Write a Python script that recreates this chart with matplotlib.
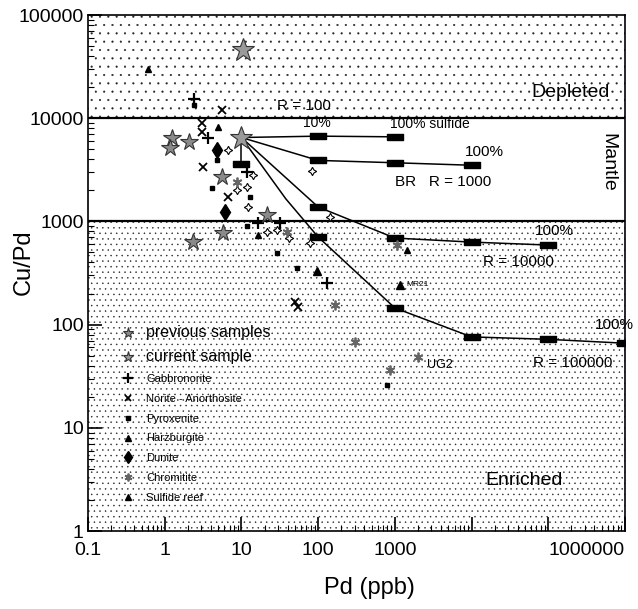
import matplotlib
matplotlib.use("Agg")
import matplotlib.pyplot as plt
from matplotlib.ticker import FixedLocator, FixedFormatter, LogLocator, NullFormatter

plt.rcParams['font.family'] = ['Liberation Sans', 'DejaVu Sans']
plt.rcParams['hatch.linewidth'] = 0.3

# ---------------- data ----------------
x_tick_vals = [0.1, 1, 10, 100, 1000, 1e4, 1e5, 1e6]
x_tick_labels = ['0.1', '1', '10', '100', '1000', '', '', '1000000']
y_tick_vals = [1, 10, 100, 1000, 10000, 100000]
y_tick_labels = ['1', '10', '100', '1000', '10000', '100000']

depleted_range = [10000, 100000]
enriched_range = [1, 1000]

# mixing lines (Pd ppb, Cu/Pd)
r100_pd = [10, 100, 1000]
r100_cupd = [6500, 6700, 6600]
r1000_pd = [10, 100, 1000, 10000]
r1000_cupd = [6500, 3900, 3700, 3500]
r10000_pd = [10, 100, 1000, 10000, 100000]
r10000_cupd = [6500, 1380, 690, 630, 590]
r100000_pd = [10, 38, 100, 1000, 10000, 100000, 1000000]
r100000_cupd = [6500, 1650, 706, 145, 76, 72, 66]
r100000_box_pd = [100, 1000, 10000, 100000, 1000000]
r100000_box_cupd = [706, 145, 76, 72, 66]
short_pd = [10, 10]
short_cupd = [6500, 3600]

# samples
current_pd = [10, 10.5]
current_cupd = [6500, 46000]
previous_pd = [1.24, 1.18, 2.1, 5.6, 5.8, 2.34, 21.6]
previous_cupd = [6400, 5130, 5900, 2700, 780, 630, 1150]
gabbro_pd = [2.4, 3.7, 11.8, 16.4, 32, 130]
gabbro_cupd = [15500, 6400, 3000, 970, 970, 253]
norite_pd = [5.6, 3.06, 3.06, 3.2, 6.7, 50, 54]
norite_cupd = [12000, 8950, 7350, 3370, 1720, 166, 148]
pyrox_pd = [2.4, 4.1, 12.8, 11.8, 4.8, 29, 53, 800]
pyrox_cupd = [13500, 2100, 1720, 900, 3950, 490, 353, 26]
harz_pd = [0.6, 4.95, 16.4, 1450]
harz_cupd = [30000, 8200, 740, 527]
dunite_pd = [4.8, 6.1]
dunite_cupd = [4900, 1230]
chrom_pd = [8.8, 39, 166, 300, 1070, 2000, 865]
chrom_cupd = [2420, 790, 155, 68, 590, 48, 36]
sulf_pd = [97, 1170]
sulf_cupd = [330, 242]
other_pd = [6.7, 8.8, 11.8, 12.2, 14.2, 83, 143, 78, 21.6, 29, 42]
other_cupd = [4900, 2000, 2150, 1380, 2800, 3100, 1100, 620, 790, 830, 690]

legend_labels = ['previous samples', 'current sample', 'Gabbronorite',
                 'Norite - Anorthosite', 'Pyroxenite', 'Harzburgite',
                 'Dunite', 'Chromitite', 'Sulfide reef']

# ---------------- figure ----------------
fig = plt.figure(figsize=(6.38, 6.09), dpi=100)
ax = fig.add_axes([88/638, 78/609, 537/638, 516/609])
ax.set_xscale('log')
ax.set_yscale('log')
ax.set_xlim(0.1, 1e6)
ax.set_ylim(1, 1e5)

ax.axhspan(*depleted_range, facecolor='white', edgecolor='#222222', hatch='..', lw=0, zorder=0)
ax.axhspan(*enriched_range, facecolor='white', edgecolor='#222222', hatch='...', lw=0, zorder=0)
ax.axhline(depleted_range[0], color='black', lw=1.6, zorder=1)
ax.axhline(enriched_range[1], color='black', lw=1.6, zorder=1)

box = [(-1, -0.45), (1, -0.45), (1, 0.45), (-1, 0.45), (-1, -0.45)]
lk = dict(color='black', lw=1.1, zorder=2)
bk = dict(ls='none', marker=box, ms=11, color='black', zorder=3)
ax.plot(r100_pd, r100_cupd, **lk)
ax.plot(r100_pd[1:], r100_cupd[1:], **bk)
ax.plot(r1000_pd, r1000_cupd, **lk)
ax.plot(r1000_pd[1:], r1000_cupd[1:], **bk)
ax.plot(r10000_pd, r10000_cupd, **lk)
ax.plot(r10000_pd[1:], r10000_cupd[1:], **bk)
ax.plot(r100000_pd, r100000_cupd, **lk)
ax.plot(r100000_box_pd, r100000_box_cupd, **bk)
ax.plot(short_pd, short_cupd, **lk)
ax.plot(short_pd[1:], short_cupd[1:], **bk)

# samples
ax.plot(other_pd, other_cupd, ls='none', marker=(4, 1, 0), ms=6, mfc='white', mec='black', mew=0.8, zorder=4)
h_prev, = ax.plot(previous_pd, previous_cupd, ls='none', marker='*', ms=13, mfc='#8a8a8a', mec='#333333', mew=0.8, zorder=5)
h_curr, = ax.plot(current_pd, current_cupd, ls='none', marker='*', ms=17, mfc='#9a9a9a', mec='#333333', mew=0.8, zorder=5)
h_gab, = ax.plot(gabbro_pd, gabbro_cupd, ls='none', marker='+', ms=9, mew=1.6, color='black', zorder=4)
h_nor, = ax.plot(norite_pd, norite_cupd, ls='none', marker='x', ms=6, mew=1.3, color='black', zorder=4)
h_pyx, = ax.plot(pyrox_pd, pyrox_cupd, ls='none', marker='s', ms=3, color='black', zorder=4)
h_harz, = ax.plot(harz_pd, harz_cupd, ls='none', marker='^', ms=5, color='black', zorder=4)
h_dun, = ax.plot(dunite_pd, dunite_cupd, ls='none', marker='d', ms=8, color='black', zorder=4)
h_chr, = ax.plot(chrom_pd, chrom_cupd, ls='none', marker=(6, 2, 0), ms=7, mew=1.3, color='#666666', zorder=4)
h_sul, = ax.plot(sulf_pd, sulf_cupd, ls='none', marker='^', ms=6, color='black', zorder=4)

handles = [h_prev, h_curr, h_gab, h_nor, h_pyx, h_harz, h_dun, h_chr, h_sul]
leg = ax.legend(handles, legend_labels, loc='upper left', bbox_to_anchor=(0.065, 0.40),
                frameon=False, fontsize=8, handlelength=1.0, handletextpad=1.1,
                labelspacing=0.88, borderpad=0, borderaxespad=0)
for t in leg.get_texts()[:2]:
    t.set_fontsize(11.5)
for h in leg.legend_handles[:2]:
    h.set_markersize(8)
for h in leg.legend_handles[2:]:
    h.set_markersize(h.get_markersize() * 0.8)

# annotations
tk = dict(ha='left', va='center', fontsize=11)
ax.text(29, 13100, 'R = 100', **tk)
ax.text(63, 8980, '10%', **{**tk, 'fontsize': 10})
ax.text(865, 8800, '100% sulfide', **{**tk, 'fontsize': 10})
ax.text(8200, 4700, '100%', **tk)
ax.text(1000, 2410, 'BR   R = 1000', **tk)
ax.text(67600, 807, '100%', **tk)
ax.text(14100, 404, 'R = 10000', **tk)
ax.text(1400, 242, 'MR21', **{**tk, 'fontsize': 6})
ax.text(4.1e5, 99, '100%', **tk)
ax.text(63000, 42.5, 'R = 100000', **tk)
ax.text(2630, 41, 'UG2', **{**tk, 'fontsize': 9})
ax.text(15000, 3.1, 'Enriched', ha='left', va='center', fontsize=14)
ax.text(61000, 17900, 'Depleted', ha='left', va='center', fontsize=14)
ax.text(6e5, 3770, 'Mantle', ha='center', va='center', rotation=-90, fontsize=14)

# axes styling
ax.xaxis.set_major_locator(FixedLocator(x_tick_vals))
ax.xaxis.set_major_formatter(FixedFormatter(x_tick_labels))
ax.yaxis.set_major_locator(FixedLocator(y_tick_vals))
ax.yaxis.set_major_formatter(FixedFormatter(y_tick_labels))
ax.xaxis.set_minor_locator(LogLocator(base=10, subs=range(2, 10), numticks=30))
ax.yaxis.set_minor_locator(LogLocator(base=10, subs=range(2, 10), numticks=30))
ax.xaxis.set_minor_formatter(NullFormatter())
ax.yaxis.set_minor_formatter(NullFormatter())
ax.tick_params(which='both', direction='in', top=False, right=False)
ax.tick_params(which='major', length=10, width=1.2, labelsize=14)
ax.tick_params(axis='x', which='major', pad=8)
ax.tick_params(axis='y', which='major', pad=3)
ax.tick_params(which='minor', length=4, width=0.8)
ax.get_xticklabels()[-1].set_ha('right')
for s in ax.spines.values():
    s.set_linewidth(1.2)

ax.set_xlabel('Pd (ppb)', fontsize=17)
ax.set_ylabel('Cu/Pd', fontsize=17)
ax.xaxis.set_label_coords(0.525, -0.09)
ax.yaxis.set_label_coords(-0.1, 0.52)

fig.savefig('out.png', dpi=100)
